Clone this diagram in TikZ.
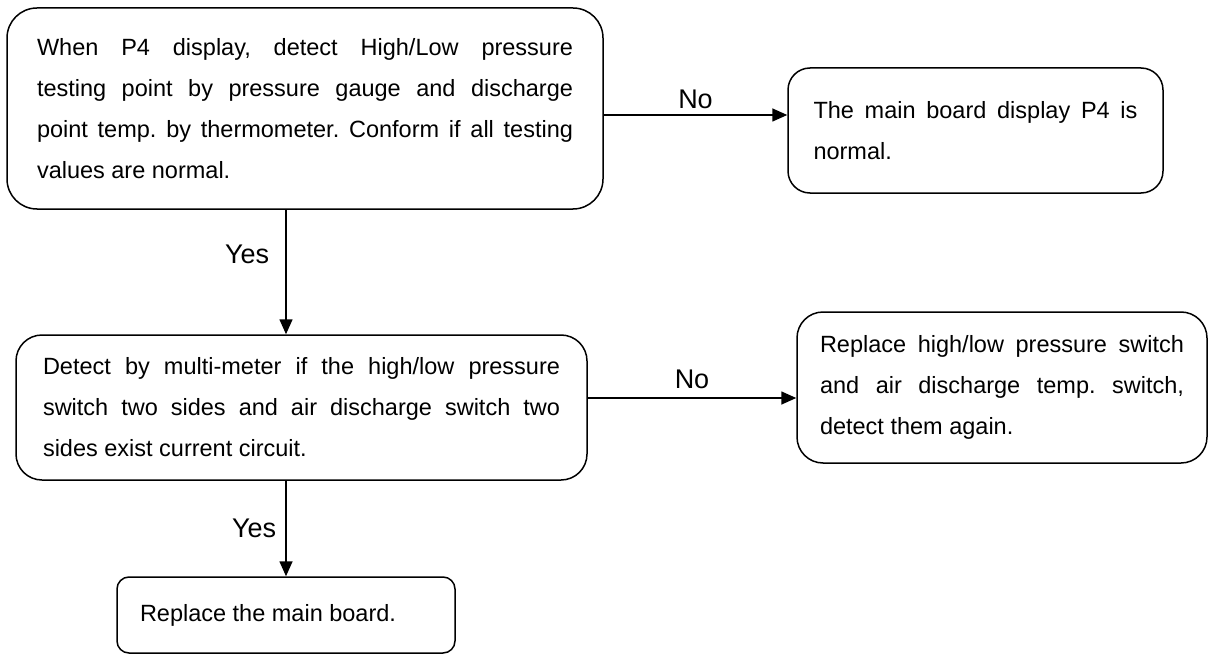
\documentclass[tikz,border=0pt]{standalone}
\usepackage{fontspec}
\setmainfont{Liberation Sans}
\usetikzlibrary{arrows.meta}
\frenchspacing
\tikzset{
  box/.style={draw, line width=1.5pt, inner sep=0pt, align=justify,
    font=\fontsize{23.5pt}{41pt}\selectfont\frenchspacing},
  arr/.style={line width=1.6pt, -{Triangle[length=15pt,width=13pt]}},
  lbl/.style={inner sep=0pt, font=\fontsize{27pt}{30pt}\selectfont}
}
\begin{document}
\begin{tikzpicture}[x=1pt,y=-1pt]
\useasboundingbox (0,0) rectangle (1214,655);
\node[box, rounded corners=30pt, minimum width=596pt, minimum height=201pt, text width=536pt] (b1) at (305,108.5)
  {When P4 display, detect High/Low pressure\linebreak testing point by pressure gauge and discharge\linebreak point temp. by thermometer. Conform if all testing\linebreak values are normal.};
\node[box, rounded corners=22pt, minimum width=375pt, minimum height=125pt, text width=324pt] (b2) at (975.5,130.5)
  {The main board display P4 is\linebreak normal.};
\node[box, rounded corners=26pt, minimum width=571pt, minimum height=145pt, text width=517pt] (b3) at (301.5,407.5)
  {Detect by multi-meter if the high/low pressure\linebreak switch two sides and air discharge switch two\linebreak sides exist current circuit.};
\node[box, rounded corners=26pt, minimum width=410pt, minimum height=151pt, text width=364pt] (b5) at (1002,387.5)
  {Replace high/low pressure switch\linebreak and air discharge temp. switch,\linebreak detect them again.};
\node[box, rounded corners=12pt, minimum width=338pt, minimum height=76pt, text width=292pt] (b4) at (286,615)
  {Replace the main board.};
\draw[arr] ([yshift=-6.5pt]b1.east) -- node[lbl, above=5pt] (n1) {No} ([yshift=15.5pt]b2.west);
\draw[arr] ([yshift=9.5pt]b3.east) -- node[lbl, above=8pt] (n2) {No} ([yshift=-10.5pt]b5.west);
\draw[arr] (b1.south -| b4) -- node[lbl, pos=0.36, left=16pt] (y1) {Yes} (b3.north -| b4);
\draw[arr] (b3.south -| b4) -- node[lbl, left=9pt] (y2) {Yes} (b4.north);
\end{tikzpicture}
\end{document}
